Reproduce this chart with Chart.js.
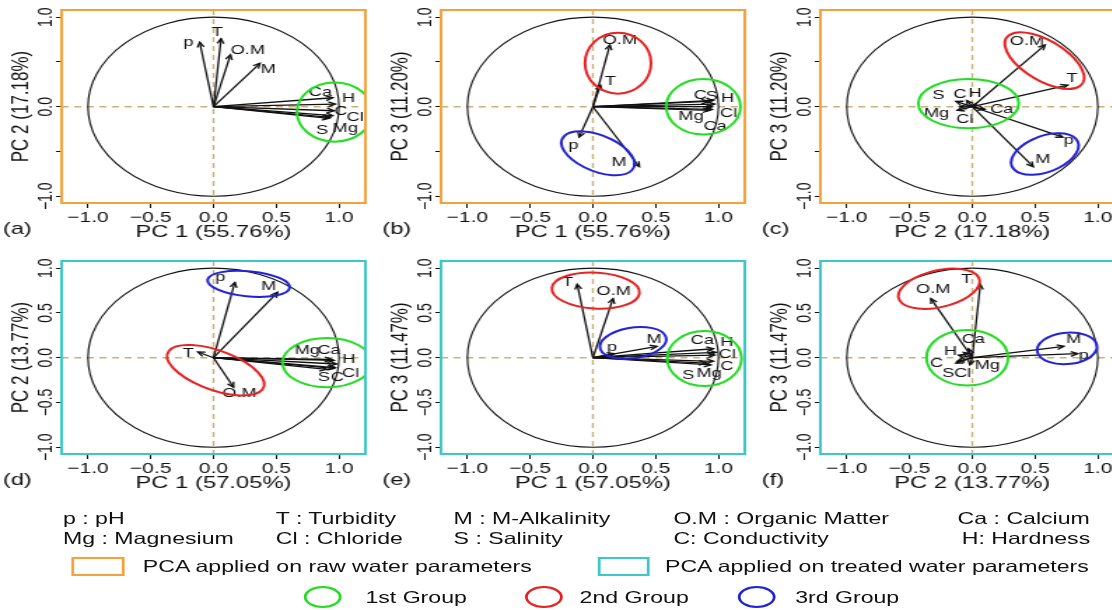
<!DOCTYPE html>
<html>
<head>
<meta charset="utf-8">
<script src="https://cdn.jsdelivr.net/npm/chart.js@4.4.1/dist/chart.umd.min.js"></script>
<style>
html, body { margin: 0; padding: 0; background: #fff; overflow: hidden; }
#wrap { position: absolute; left: 0; top: 0; width: 794px; height: 610px; overflow: hidden;
        transform: scaleX(1.4); transform-origin: 0 0; font-family: 'Liberation Sans', Arial, sans-serif; color: #111; }
canvas { position: absolute; }
.lg { position: absolute; font-size: 16.5px; line-height: 18px; white-space: nowrap; transform: translateY(-50%); }
.box { position: absolute; box-sizing: border-box; border: 2px solid; }
.ring { position: absolute; box-sizing: border-box; border: 2px solid; border-radius: 50%; }
</style>
</head>
<body>
<div id="wrap">
  <canvas id="pa" width="271" height="250" style="left:0px;top:0px"></canvas>
  <canvas id="pb" width="271" height="250" style="left:270.7px;top:0px"></canvas>
  <canvas id="pc" width="271" height="250" style="left:542.1px;top:0px"></canvas>
  <canvas id="pd" width="271" height="250" style="left:0px;top:251px"></canvas>
  <canvas id="pe" width="271" height="250" style="left:270.7px;top:251px"></canvas>
  <canvas id="pf" width="271" height="250" style="left:542.1px;top:251px"></canvas>

  <div class="lg" style="left:45px;top:518px">p : pH</div>
  <div class="lg" style="left:197px;top:518px">T : Turbidity</div>
  <div class="lg" style="left:324px;top:518px">M : M-Alkalinity</div>
  <div class="lg" style="left:481px;top:518px">O.M : Organic Matter</div>
  <div class="lg" style="left:684px;top:518px">Ca : Calcium</div>
  <div class="lg" style="left:45px;top:538px">Mg : Magnesium</div>
  <div class="lg" style="left:197px;top:538px">Cl : Chloride</div>
  <div class="lg" style="left:324px;top:538px">S : Salinity</div>
  <div class="lg" style="left:481px;top:538px">C: Conductivity</div>
  <div class="lg" style="left:687px;top:538px">H: Hardness</div>

  <div class="box" style="left:51px;top:557px;width:38px;height:19px;border-color:#f5a23c"></div>
  <div class="lg" style="left:102px;top:566px">PCA applied on raw water parameters</div>
  <div class="box" style="left:427px;top:557px;width:37px;height:19px;border-color:#3cc8c8"></div>
  <div class="lg" style="left:475px;top:566px">PCA applied on treated water parameters</div>

  <div class="ring" style="left:217px;top:586px;width:27px;height:22px;border-color:#22dd22"></div>
  <div class="lg" style="left:261px;top:597px">1st Group</div>
  <div class="ring" style="left:375px;top:586px;width:27px;height:22px;border-color:#e62222"></div>
  <div class="lg" style="left:414px;top:597px">2nd Group</div>
  <div class="ring" style="left:527px;top:586px;width:27px;height:22px;border-color:#2222d6"></div>
  <div class="lg" style="left:568px;top:597px">3rd Group</div>
</div>

<script>
// variables (same order in every loading array)
var variables = ['p', 'T', 'M', 'O.M', 'Ca', 'Mg', 'Cl', 'S', 'C', 'H'];

// loadings of raw water parameters
var rawPC1 = [-0.11, 0.06, 0.37, 0.135, 0.95, 0.93, 0.95, 0.92, 0.96, 0.97];
var rawPC2 = [0.72, 0.76, 0.485, 0.58, 0.10, -0.12, -0.10, -0.13, -0.045, 0.03];
var rawPC3 = [-0.34, 0.24, -0.67, 0.69, -0.03, -0.04, 0.0, 0.06, 0.07, 0.03];

// loadings of treated water parameters
var trtPC1 = [0.17, -0.125, 0.51, 0.16, 0.96, 0.94, 0.97, 0.90, 0.96, 0.98];
var trtPC2 = [0.84, 0.064, 0.73, -0.33, -0.03, -0.02, -0.11, -0.13, -0.12, -0.07];
var trtPC3 = [0.045, 0.82, 0.127, 0.66, 0.10, -0.08, 0.03, -0.06, -0.04, 0.06];

// explained variance (%)
var rawVariance = [55.76, 17.18, 11.20];
var trtVariance = [57.05, 13.77, 11.47];

// ticks
var axisTicks = [-1, -0.5, 0, 0.5, 1];
var xTickLabels = ['\u22121.0', '\u22120.5', '0.0', '0.5', '1.0'];
var yTickLabelsRaw = ['\u22121.0', '', '0.0', '', '1.0'];
var yTickLabelsTrt = ['\u22121.0', '\u22120.5', '0.0', '0.5', '1.0'];

var groupColors = ['#22dd22', '#e62222', '#2222d6'];
var rawFrame = '#f5a23c';
var trtFrame = '#3cc8c8';

// group ellipses: g = group, centre / half axes in loading units, rot in degrees
var panels = [
  { id: 'pa', tag: '(a)', pcs: [rawPC1, rawPC2], nums: [1, 2], vars: rawVariance, frame: rawFrame, yLabels: yTickLabelsRaw,
    groups: [{g: 0, cx: 0.965, cy: -0.06, a: 0.30, b: 0.33, rot: 0}],
    offs: [[-8, 0], [-2.6, -6], [6, 5.7], [12.4, -4], [-8.8, -5.3], [10.7, 10.5], [16, 1.7], [-4.8, 11.7], [4.8, 0.3], [9.5, -5.3]] },
  { id: 'pb', tag: '(b)', pcs: [rawPC1, rawPC3], nums: [1, 3], vars: rawVariance, frame: rawFrame, yLabels: yTickLabelsRaw,
    groups: [{g: 1, cx: 0.2, cy: 0.486, a: 0.263, b: 0.34, rot: 0},
             {g: 2, cx: 0.04, cy: -0.52, a: 0.33, b: 0.19, rot: -35},
             {g: 0, cx: 0.88, cy: 0.0, a: 0.296, b: 0.31, rot: 0}],
    offs: [[-4, 8.7], [7.1, -4], [-14.5, -4], [7.1, -5], [2.1, 17.3], [-13.3, 6.3], [11.7, 6.7], [2.4, -5.3], [-9.5, -5.3], [9.3, -5.7]] },
  { id: 'pc', tag: '(c)', pcs: [rawPC2, rawPC3], nums: [2, 3], vars: rawVariance, frame: rawFrame, yLabels: yTickLabelsRaw,
    groups: [{g: 0, cx: -0.03, cy: 0.035, a: 0.40, b: 0.275, rot: 0},
             {g: 1, cx: 0.575, cy: 0.515, a: 0.40, b: 0.2, rot: -45},
             {g: 2, cx: 0.578, cy: -0.528, a: 0.30, b: 0.19, rot: 35}],
    offs: [[4.3, 3.3], [3.1, -7], [6.9, -7], [-12.9, -3.3], [12, 0.3], [-14.7, 2.7], [3.7, 12.3], [-12.6, -5.6], [-4.8, -5.7], [-0.7, -11]] },
  { id: 'pd', tag: '(d)', pcs: [trtPC1, trtPC2], nums: [1, 2], vars: trtVariance, frame: trtFrame, yLabels: yTickLabelsTrt,
    groups: [{g: 2, cx: 0.28, cy: 0.825, a: 0.33, b: 0.14, rot: -8},
             {g: 1, cx: 0.017, cy: -0.14, a: 0.43, b: 0.21, rot: -30},
             {g: 0, cx: 0.905, cy: -0.055, a: 0.355, b: 0.275, rot: 0}],
    offs: [[-10.5, -5.3], [-6.7, 1], [-6.2, -5.7], [4.3, 5.7], [-3.6, -10], [-17.3, -9], [11, 5.7], [-1.8, 7.8], [2.4, 9.3], [8.9, -4.6]] },
  { id: 'pe', tag: '(e)', pcs: [trtPC1, trtPC3], nums: [1, 3], vars: trtVariance, frame: trtFrame, yLabels: yTickLabelsTrt,
    groups: [{g: 1, cx: 0.022, cy: 0.75, a: 0.35, b: 0.2, rot: -5},
             {g: 2, cx: 0.32, cy: 0.165, a: 0.27, b: 0.17, rot: 15},
             {g: 0, cx: 0.888, cy: -0.01, a: 0.296, b: 0.307, rot: 0}],
    offs: [[-1.7, -6.7], [-6.7, -2], [-2.1, -7], [0.5, -7], [-7.9, -8.3], [-1.3, 8.3], [9, -0.3], [-12.7, 12.3], [9.5, 5.1], [7.7, -10.3]] },
  { id: 'pf', tag: '(f)', pcs: [trtPC2, trtPC3], nums: [2, 3], vars: trtVariance, frame: trtFrame, yLabels: yTickLabelsTrt,
    groups: [{g: 1, cx: -0.265, cy: 0.77, a: 0.34, b: 0.2, rot: 22},
             {g: 0, cx: -0.04, cy: 0.0, a: 0.325, b: 0.31, rot: 0},
             {g: 2, cx: 0.755, cy: 0.104, a: 0.24, b: 0.175, rot: 10}],
    offs: [[4.3, 1.7], [-9.8, -5], [6.9, -6.7], [1.7, -8.7], [3.4, -9], [12.5, 0.5], [2.9, 18], [-5.5, 10], [-14.8, 1.8], [-9.2, -1]] }
];

Chart.defaults.font.family = "'Liberation Sans', Arial, sans-serif";
Chart.defaults.color = '#111';

function pcTitle(n, vars) {
    return 'PC ' + n + ' (' + vars[n - 1].toFixed(2) + '%)';
}

// dibuja circulo, ejes, flechas, grupos y marco
function biplot(panel) {
    return {
        id: 'biplot_' + panel.id,
        beforeDatasetsDraw: function(chart) {
            var ctx = chart.ctx, xs = chart.scales.x, ys = chart.scales.y, area = chart.chartArea;
            var x0 = xs.getPixelForValue(0), y0 = ys.getPixelForValue(0);
            var ux = xs.getPixelForValue(1) - x0, uy = y0 - ys.getPixelForValue(1);
            ctx.save();
            ctx.beginPath();
            ctx.rect(area.left, area.top, area.right - area.left, area.bottom - area.top);
            ctx.clip();
            ctx.strokeStyle = '#c9b27c';
            ctx.lineWidth = 1.4;
            ctx.setLineDash([5, 4]);
            ctx.beginPath();
            ctx.moveTo(area.left, y0); ctx.lineTo(area.right, y0);
            ctx.moveTo(x0, area.top); ctx.lineTo(x0, area.bottom);
            ctx.stroke();
            ctx.setLineDash([]);
            ctx.strokeStyle = '#111';
            ctx.lineWidth = 1.1;
            ctx.beginPath();
            ctx.ellipse(x0, y0, ux, uy, 0, 0, Math.PI * 2);
            ctx.stroke();
            ctx.restore();
        },
        afterDatasetsDraw: function(chart) {
            var ctx = chart.ctx, xs = chart.scales.x, ys = chart.scales.y, area = chart.chartArea;
            var x0 = xs.getPixelForValue(0), y0 = ys.getPixelForValue(0);
            var ux = xs.getPixelForValue(1) - x0, uy = y0 - ys.getPixelForValue(1);
            ctx.save();
            ctx.beginPath();
            ctx.rect(area.left, area.top, area.right - area.left, area.bottom - area.top);
            ctx.clip();

            // puntas de flecha
            ctx.strokeStyle = '#111';
            ctx.lineWidth = 1.3;
            for (let i = 0; i < variables.length; i++) {
                let px = xs.getPixelForValue(panel.pcs[0][i]);
                let py = ys.getPixelForValue(panel.pcs[1][i]);
                let ang = Math.atan2(py - y0, px - x0);
                ctx.beginPath();
                ctx.moveTo(px - 5.5 * Math.cos(ang - 0.45), py - 5.5 * Math.sin(ang - 0.45));
                ctx.lineTo(px, py);
                ctx.lineTo(px - 5.5 * Math.cos(ang + 0.45), py - 5.5 * Math.sin(ang + 0.45));
                ctx.stroke();
            }

            // etiquetas
            ctx.fillStyle = '#111';
            ctx.font = "13px 'Liberation Sans', Arial, sans-serif";
            ctx.textAlign = 'center';
            ctx.textBaseline = 'middle';
            for (let i = 0; i < variables.length; i++) {
                let px = xs.getPixelForValue(panel.pcs[0][i]);
                let py = ys.getPixelForValue(panel.pcs[1][i]);
                ctx.fillText(variables[i], px + panel.offs[i][0], py + panel.offs[i][1]);
            }

            // grupos
            ctx.lineWidth = 2;
            panel.groups.forEach(function(gr) {
                ctx.strokeStyle = groupColors[gr.g];
                ctx.beginPath();
                ctx.ellipse(xs.getPixelForValue(gr.cx), ys.getPixelForValue(gr.cy), gr.a * ux, gr.b * uy,
                            -gr.rot * Math.PI / 180, 0, Math.PI * 2);
                ctx.stroke();
            });
            ctx.restore();

            // marco
            ctx.save();
            ctx.strokeStyle = panel.frame;
            ctx.lineWidth = 2;
            ctx.strokeRect(area.left, area.top, area.right - area.left, area.bottom - area.top);
            ctx.restore();
        },
        afterDraw: function(chart) {
            var ctx = chart.ctx, ys = chart.scales.y;
            ctx.save();
            ctx.fillStyle = '#111';
            ctx.font = "14px 'Liberation Sans', Arial, sans-serif";
            ctx.textAlign = 'center';
            ctx.textBaseline = 'middle';
            for (let i = 0; i < axisTicks.length; i++) {
                if (!panel.yLabels[i]) continue;
                ctx.save();
                ctx.translate(33.5, ys.getPixelForValue(axisTicks[i]));
                ctx.rotate(-Math.PI / 2);
                ctx.fillText(panel.yLabels[i], 0, 0);
                ctx.restore();
            }
            ctx.font = "17px 'Liberation Sans', Arial, sans-serif";
            ctx.textAlign = 'left';
            ctx.fillText(panel.tag, 2, 229);
            ctx.restore();
        }
    };
}

panels.forEach(function(panel) {
    var datasets = variables.map(function(v, i) {
        return {
            label: v,
            data: [{x: 0, y: 0}, {x: panel.pcs[0][i], y: panel.pcs[1][i]}],
            showLine: true,
            borderColor: '#111',
            borderWidth: 1.3,
            pointRadius: 0
        };
    });

    new Chart(document.getElementById(panel.id), {
        type: 'scatter',
        data: { datasets: datasets },
        options: {
            responsive: false,
            animation: false,
            layout: { padding: { left: 0, right: 10, top: 10, bottom: 0 } },
            plugins: { legend: { display: false }, tooltip: { enabled: false } },
            scales: {
                x: {
                    type: 'linear', min: -1.21, max: 1.21,
                    afterBuildTicks: function(s) { s.ticks = axisTicks.map(function(v) { return {value: v}; }); },
                    afterFit: function(s) { s.height = 47; },
                    ticks: {
                        callback: function(v, i) { return xTickLabels[i]; },
                        font: { size: 15 }, color: '#111', padding: 1, maxRotation: 0, autoSkip: false
                    },
                    grid: { drawOnChartArea: false, drawTicks: true, tickLength: 5, color: '#111' },
                    border: { display: false },
                    title: { display: true, text: pcTitle(panel.nums[0], panel.vars), font: { size: 17 },
                             color: '#111', padding: { top: 0, bottom: 7 } }
                },
                y: {
                    type: 'linear', min: -1.075, max: 1.08,
                    afterBuildTicks: function(s) { s.ticks = axisTicks.map(function(v) { return {value: v}; }); },
                    afterFit: function(s) { s.width = 44; },
                    ticks: { display: false },
                    grid: { drawOnChartArea: false, drawTicks: true, tickLength: 4, color: '#111' },
                    border: { display: false },
                    title: { display: true, text: pcTitle(panel.nums[1], panel.vars), font: { size: 17 },
                             color: '#111', padding: { top: 5, bottom: 0 } }
                }
            }
        },
        plugins: [biplot(panel)]
    });
});
</script>
</body>
</html>
